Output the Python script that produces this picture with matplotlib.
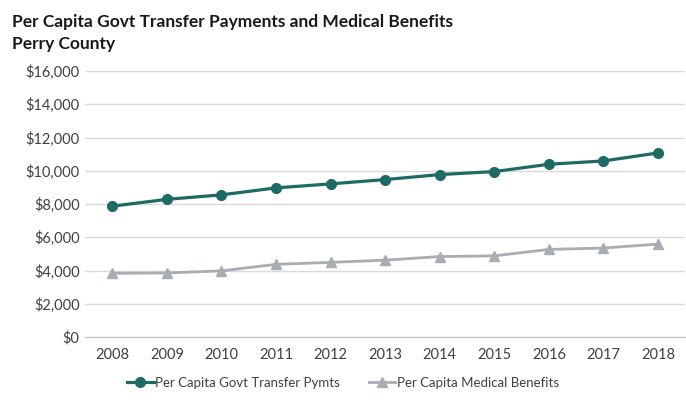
import matplotlib
matplotlib.use("Agg")
import matplotlib.pyplot as plt
from matplotlib.ticker import FuncFormatter

years = ["2008", "2009", "2010", "2011", "2012", "2013", "2014", "2015", "2016", "2017", "2018"]
transfer = [7870, 8280, 8550, 8970, 9210, 9470, 9770, 9950, 10390, 10590, 11070]
medical = [3830, 3850, 3980, 4370, 4490, 4620, 4840, 4880, 5270, 5350, 5590]
yticks = [0, 2000, 4000, 6000, 8000, 10000, 12000, 14000, 16000]

plt.rcParams['font.family'] = ['Lato', 'DejaVu Sans']

fig = plt.figure(figsize=(6.86, 4.0), dpi=100)
ax = fig.add_axes([0.124, 0.1575, 0.875, 0.665])

x = list(range(len(years)))
ax.plot(x, transfer, color='#1E6B65', lw=2.3, marker='o', ms=7, label='Per Capita Govt Transfer Pymts', zorder=3)
ax.plot(x, medical, color='#A6ADB4', lw=2.0, marker='^', ms=6.5, label='Per Capita Medical Benefits', zorder=3)

ax.set_xlim(-0.5, len(years) - 0.5)
ax.set_ylim(0, 16000)
ax.set_yticks(yticks)
ax.yaxis.set_major_formatter(FuncFormatter(lambda v, p: f"${int(v):,}"))
ax.set_xticks(x)
ax.set_xticklabels(years)
ax.grid(axis='y', color='#D9D9D9', lw=1)
ax.set_axisbelow(True)
for s in ['top', 'right', 'left']:
    ax.spines[s].set_visible(False)
ax.spines['bottom'].set_color('#BFBFBF')
ax.tick_params(axis='both', length=0, labelsize=10.5, colors='#404040', pad=8)
ax.tick_params(axis='y', pad=4)

fig.text(0.017, 0.918, "Per Capita Govt Transfer Payments and Medical Benefits\nPerry County",
         fontsize=12.5, fontweight='bold', color='#1A1A1A', va='center', ha='left', linespacing=1.45)

leg = fig.legend(loc='center', bbox_to_anchor=(0.5, 0.043), ncol=2, frameon=False,
                 fontsize=9.5, handlelength=2.0, columnspacing=2.2, handletextpad=0.1)
for t in leg.get_texts():
    t.set_color('#404040')

fig.savefig("out.png", dpi=100)
